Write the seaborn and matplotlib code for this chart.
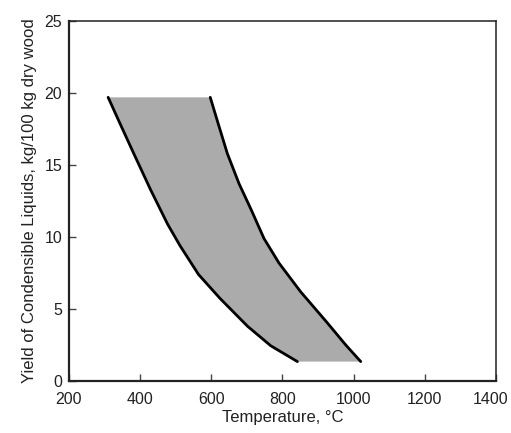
import numpy as np
import pandas as pd
import matplotlib
matplotlib.use("Agg")
import matplotlib.pyplot as plt
import matplotlib.transforms as mtransforms
import seaborn as sns

# lower boundary curve (temperature °C, yield kg/100 kg dry wood)
low_temp = [310, 343, 382, 429, 477, 512, 564, 624, 702, 767, 842]
low_yield = [19.7, 17.9, 15.8, 13.3, 10.9, 9.4, 7.4, 5.75, 3.8, 2.45, 1.35]

# upper boundary curve
high_temp = [597, 619, 645, 678, 712, 748, 790, 851, 924, 978, 1020]
high_yield = [19.7, 17.9, 15.8, 13.7, 11.9, 9.9, 8.2, 6.2, 4.1, 2.5, 1.35]

x_ticks = [200, 400, 600, 800, 1000, 1200, 1400]
y_ticks = [0, 5, 10, 15, 20, 25]

sns.set_style("ticks")
plt.rcParams['font.family'] = ['Liberation Sans', 'DejaVu Sans']
plt.rcParams.update({
    'xtick.direction': 'in', 'ytick.direction': 'in',
    'xtick.major.size': 5, 'ytick.major.size': 5,
    'xtick.major.width': 1.0, 'ytick.major.width': 1.0,
})

low = pd.DataFrame({'temp': low_temp, 'yield': low_yield})
high = pd.DataFrame({'temp': high_temp, 'yield': high_yield})

fig = plt.figure(figsize=(5.11, 4.33), dpi=100)
ax = fig.add_axes([0.135, 0.12, 0.8356, 0.8315])

# shaded band between the two curves
ax.fill(np.r_[low['temp'], high['temp'][::-1]],
        np.r_[low['yield'], high['yield'][::-1]],
        color='#ababab', lw=0, zorder=1)

sns.lineplot(data=low, x='temp', y='yield', color='black', linewidth=2, sort=False, ax=ax, zorder=2)
sns.lineplot(data=high, x='temp', y='yield', color='black', linewidth=2, sort=False, ax=ax, zorder=2)

ax.set_xlim(200, 1400)
ax.set_ylim(0, 25)
ax.set_xticks(x_ticks)
ax.set_yticks(y_ticks)
ax.tick_params(axis='both', which='major', direction='in', length=5, width=1.0,
               color='#444444', labelsize=11.5, labelcolor='#222222',
               bottom=True, left=True, top=False, right=False)
ax.tick_params(axis='x', pad=8)
ax.tick_params(axis='y', pad=5)

# nudge the last x label so it stays inside the picture
last = ax.get_xticklabels()[-1]
last.set_transform(last.get_transform() + mtransforms.ScaledTranslation(-4 / 72, 0, fig.dpi_scale_trans))

for side in ['left', 'bottom']:
    ax.spines[side].set_linewidth(1.6)
for side in ['top', 'right']:
    ax.spines[side].set_visible(True)
    ax.spines[side].set_linewidth(1.1)
for sp in ax.spines.values():
    sp.set_color('#222222')

ax.set_xlabel('Temperature, °C', fontsize=12, color='#222222', labelpad=2)
ax.set_ylabel('Yield of Condensible Liquids, kg/100 kg dry wood', fontsize=12,
              color='#222222', labelpad=5)

fig.savefig('out.png', dpi=100)
